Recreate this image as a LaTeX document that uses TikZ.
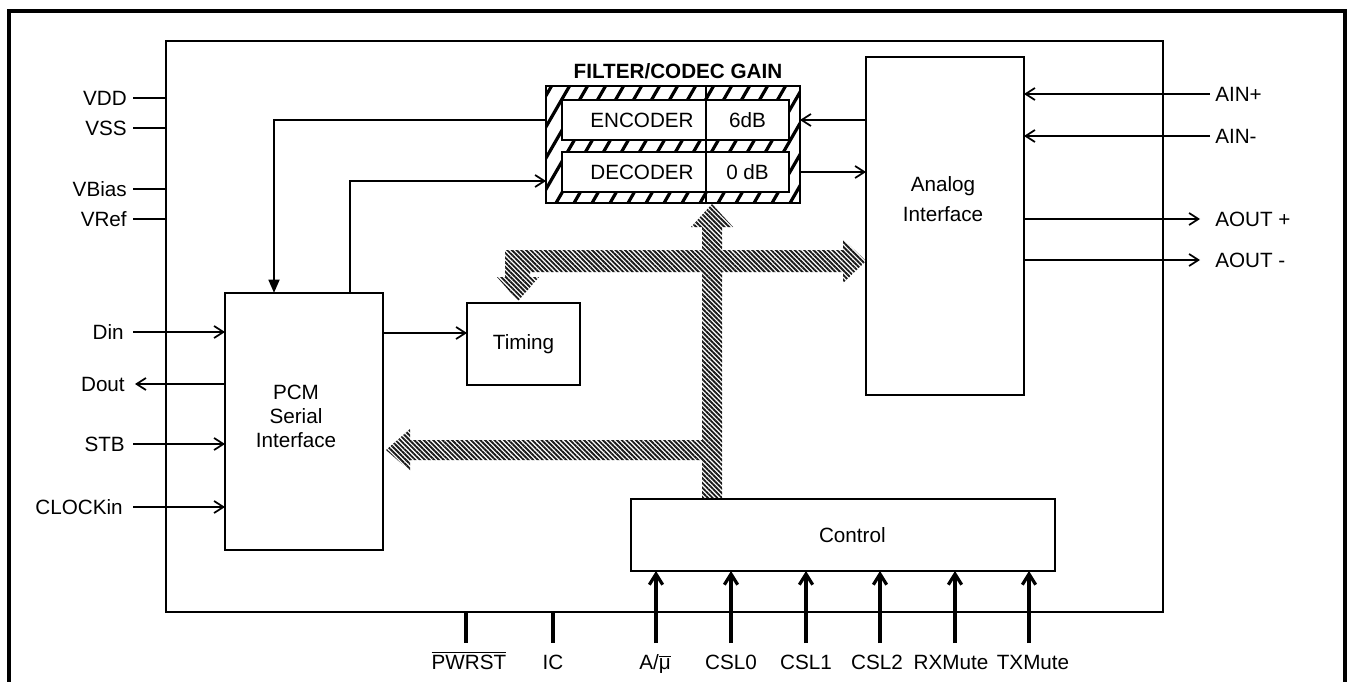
\documentclass[tikz,border=0pt]{standalone}
\usepackage{fontspec}
\setmainfont{Liberation Sans}
\usetikzlibrary{arrows.meta,patterns.meta}
\newcommand\pixbox[7][]{\node[blk,#1,minimum width={(#5-#3)*0.75pt},minimum height={(#6-#4)*0.75pt}] (#2) at ({(#3+#5)/2},{(#4+#6)/2}) {#7};}
\begin{document}
\begin{tikzpicture}[x=0.75pt,y=-0.75pt,font=\fontsize{15.5}{18}\selectfont,
  blk/.style={draw,line width=1.6pt,inner sep=0pt,outer sep=0pt,align=center},
  wire/.style={line width=1.3pt},
  inarr/.style={wire,-{Straight Barb[length=7pt,width=9pt,line width=1.3pt]}},
  pinarr/.style={line width=2.8pt,-{Straight Barb[length=8pt,width=10pt,line width=2.4pt]}},
  stub/.style={line width=2.8pt},
  lbl/.style={inner sep=0pt,text height=11.1pt,text depth=0pt},
  lblL/.style={lbl,anchor=east},
  lblR/.style={lbl,anchor=west},
  lblB/.style={inner sep=0pt,anchor=base},
  bus/.style={pattern={Lines[angle=-45,distance=2.5pt,line width=1.4pt]},pattern color=black!90}]
\useasboundingbox (0,0) rectangle (1351,681);
% outer frame
\draw[line width=3.2pt] (9,700) -- (9,11) -- (1345,11) -- (1345,700);
% chip
\pixbox{chip}{166}{41}{1163}{612}{}
% blocks
\pixbox{pcm}{225}{293}{383}{550}{}
\node[align=center,inner sep=0pt] (pcmtxt) at (296,416) {PCM\\Serial\\Interface};
\pixbox{tim}{467}{303}{580}{385}{Timing}
\pixbox{ana}{866}{57}{1024}{395}{}
\node[align=center,inner sep=0pt] (anatxt) at (943,199) {Analog\\[4.5pt]Interface};
\pixbox{ctl}{631}{499}{1055}{571}{\kern14pt Control}
% filter / codec gain
\node[font=\bfseries\fontsize{15.5}{18}\selectfont,inner sep=0pt] (title) at (678,71) {FILTER/CODEC GAIN};
\pixbox[fill=white]{filt}{546}{86}{800}{203}{}
\begin{scope}
  \clip (546,86) rectangle (800,203);
  \foreach \i in {462,480,...,830} \draw[line width=2.4pt] (\i,210) -- (\i+75,80);
\end{scope}
\pixbox[fill=white]{encl}{562}{100}{706}{140}{\kern12pt ENCODER}
\pixbox[fill=white]{encr}{706}{100}{789}{140}{6dB}
\pixbox[fill=white]{decl}{562}{152}{706}{192}{\kern12pt DECODER}
\pixbox[fill=white]{decr}{706}{152}{789}{192}{0 dB}
\draw[line width=1.6pt] (filt.north -| encl.east) -- (filt.south -| encl.east);
\draw[line width=2pt] (filt.north west) rectangle (filt.south east);
% bus
\fill[bus] (702,498) -- (702,460) -- (410,460) -- (410,471) -- (386,450) -- (410,429) -- (410,440)
  -- (702,440) -- (702,272) -- (530,272) -- (530,277) -- (539,277) -- (518,301) -- (497,277)
  -- (505,277) -- (505,250) -- (702,250) -- (702,227) -- (691,227) -- (712,204) -- (733,227)
  -- (722,227) -- (722,250) -- (843,250) -- (843,239) -- (866,261) -- (843,283) -- (843,272)
  -- (722,272) -- (722,498) -- cycle;
% internal connectors
\coordinate (decin) at (546,181);
\coordinate (tA) at (383,333);
\draw[line width=2pt,-{Triangle[length=10pt,width=8pt]}] (filt.west |- encl.west) -| ([xshift=36.75pt]pcm.north west);
\draw[inarr] ([xshift=93.75pt]pcm.north west) |- (decin);
\draw[inarr] (ana.west |- encl.west) -- (filt.east |- encl.west);
\draw[inarr] (filt.east |- decl.west) -- (ana.west |- decl.west);
\draw[inarr] (tA) -- (tim.west |- tA);
% left pins
\node[lblL] (vdd) at (127,98) {VDD};
\node[lblL] (vss) at (127,128) {VSS};
\node[lblL] (vbias) at (127,189) {VBias};
\node[lblL] (vref) at (127,219) {VRef};
\foreach \n in {vdd,vss,vbias,vref} \draw[wire] ([xshift=4.5pt]\n.east) -- (chip.west |- \n.east);
\node[lblL] (din) at (124,332) {Din};
\node[lblL] (dout) at (125,384) {Dout};
\node[lblL] (stb) at (125,444) {STB};
\node[lblL] (clk) at (123,507) {CLOCKin};
\draw[inarr] ([xshift=6.75pt]din.east) -- (pcm.west |- din.east);
\draw[inarr] (pcm.west |- dout.east) -- ([xshift=7.5pt]dout.east);
\draw[inarr] ([xshift=6pt]stb.east) -- (pcm.west |- stb.east);
\draw[inarr] ([xshift=7.5pt]clk.east) -- (pcm.west |- clk.east);
% right pins
\node[lblR] (ainp) at (1215,94) {AIN+};
\node[lblR] (ainm) at (1215,136) {AIN-};
\node[lblR] (aoutp) at (1215,219) {AOUT +};
\node[lblR] (aoutm) at (1215,260) {AOUT -};
\draw[inarr] ([xshift=-3.75pt]ainp.west) -- (ana.east |- ainp.west);
\draw[inarr] ([xshift=-3.75pt]ainm.west) -- (ana.east |- ainm.west);
\draw[inarr] (ana.east |- aoutp.west) -- ([xshift=-11.25pt]aoutp.west);
\draw[inarr] (ana.east |- aoutm.west) -- ([xshift=-11.25pt]aoutm.west);
% bottom pins
\node[lblB] (pwrst) at (469,669) {$\overline{\mbox{PWRST}}$};
\node[lblB] (ic) at (553,669) {IC};
\node[lblB] (amu) at (655,669) {A/$\overline{\mbox{μ}}$};
\node[lblB] (csl0) at (731,669) {CSL0};
\node[lblB] (csl1) at (806,669) {CSL1};
\node[lblB] (csl2) at (877,669) {CSL2};
\node[lblB] (rxm) at (951,669) {RXMute};
\node[lblB] (txm) at (1033,669) {TXMute};
\coordinate (pPW) at (466,643);
\coordinate (pIC) at (553,643);
\draw[stub] (chip.south -| pPW) -- (pPW);
\draw[stub] (chip.south -| pIC) -- (pIC);
\foreach \n/\x in {pA/656,pC0/731,pC1/806,pC2/880,pRX/955,pTX/1029} {
  \coordinate (\n) at (\x,643);
  \draw[pinarr] (\n) -- (ctl.south -| \n);
}
\end{tikzpicture}
\end{document}
